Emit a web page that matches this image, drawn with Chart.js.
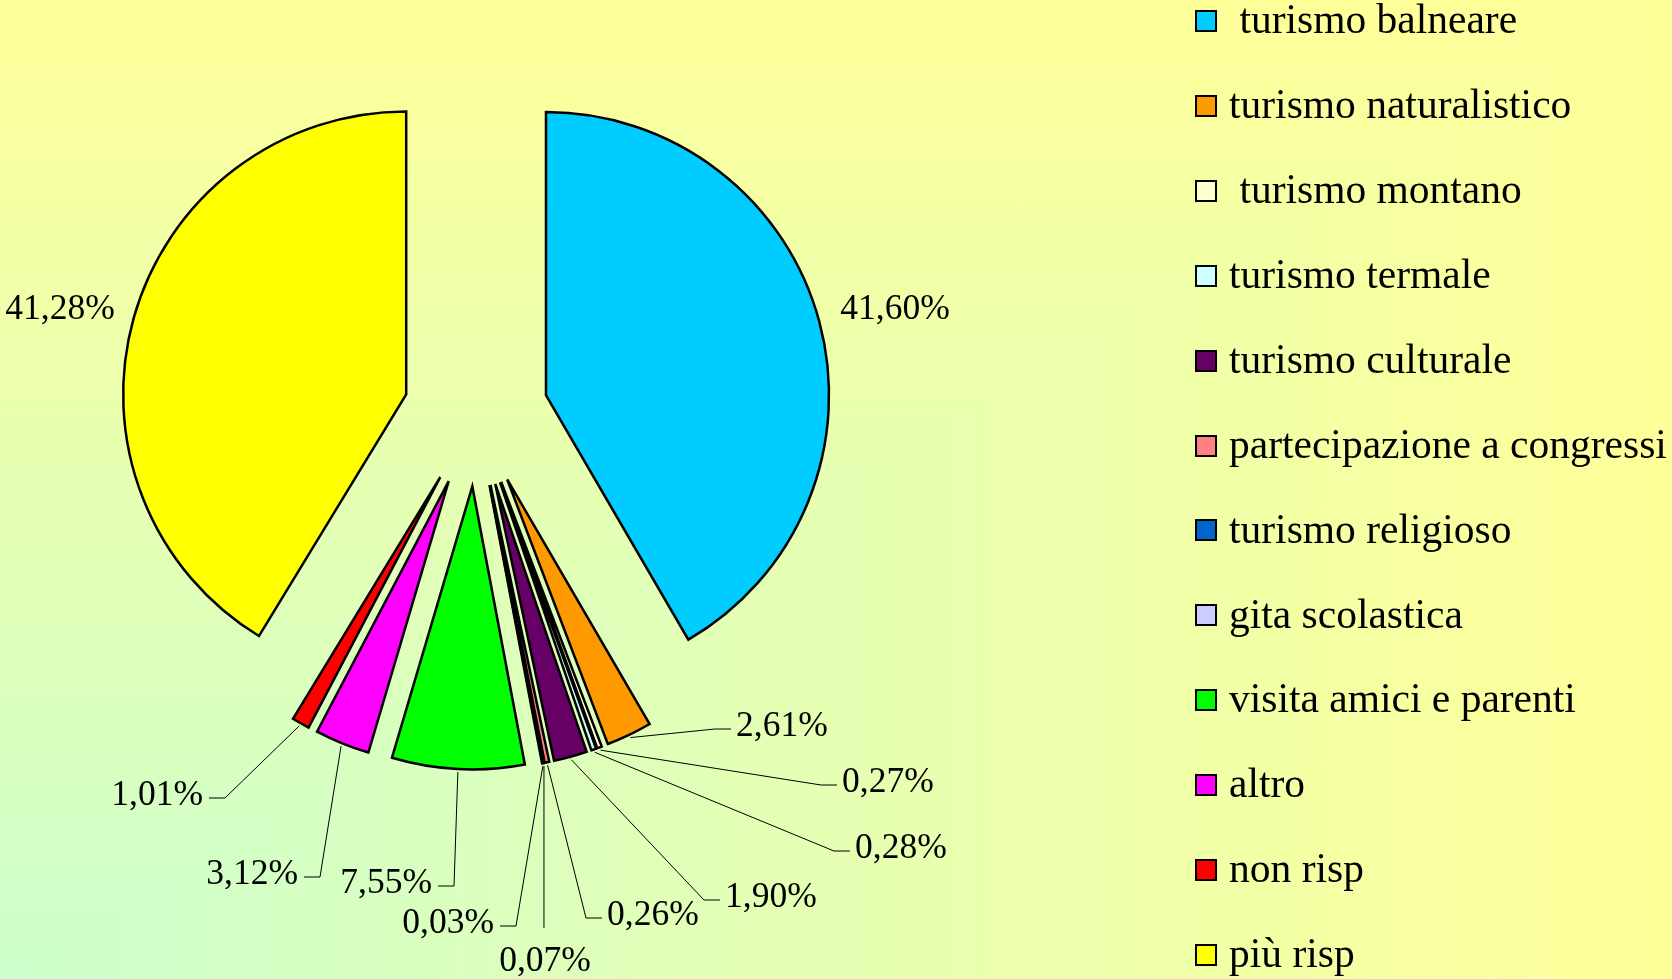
<!DOCTYPE html>
<html>
<head>
<meta charset="utf-8">
<script src="https://cdn.jsdelivr.net/npm/chart.js@4.4.0/dist/chart.umd.min.js"></script>
<style>
  html, body { margin: 0; padding: 0; width: 1672px; height: 979px; overflow: hidden; }
  #bg { position: absolute; left: 0; top: 0; width: 1672px; height: 979px;
        background: linear-gradient(to right, #CCFFCC, #FFFF99); }
  #bg2 { position: absolute; left: 0; top: 0; width: 1672px; height: 979px;
         background: linear-gradient(to top, #CCFFCC, #FFFF99);
         clip-path: polygon(0 0, 100% 0, 0 100%); }
  #wrap { position: absolute; left: 0; top: 0; width: 1672px; height: 979px; }
  #legend { position: absolute; left: 1195px; top: 0; width: 477px; height: 979px; }
  .row { position: absolute; left: 0; width: 477px; height: 22px; }
  .box { position: absolute; left: 0; top: 0; width: 22px; height: 22px;
         border: 2px solid #000; box-sizing: border-box; }
  .txt { position: absolute; left: 34px; top: -10.8px; font-family: "Liberation Serif", serif;
         font-size: 41.5px; line-height: 41px; white-space: pre; color: #000; }
</style>
</head>
<body>
<div id="bg"></div>
<div id="bg2"></div>
<div id="wrap"><canvas id="pieChart"></canvas></div>
<div id="legend"></div>
<script>
// categorie e valori (%)
const labels = [
  " turismo balneare", "turismo naturalistico", " turismo montano", "turismo termale",
  "turismo culturale", "partecipazione a congressi", "turismo religioso", "gita scolastica",
  "visita amici e parenti", "altro", "non risp", "più risp"
];
const values = [41.60, 2.61, 0.27, 0.28, 1.90, 0.26, 0.07, 0.03, 7.55, 3.12, 1.01, 41.28];
const colors = [
  "#00CCFF", "#FF9900", "#FFFFCC", "#CCFFFF", "#660066", "#FF8080",
  "#0066CC", "#CCCCFF", "#00FF00", "#FF00FF", "#FF0000", "#FFFF00"
];

// posizione delle etichette rispetto al centro della torta
const labelSpots = [
  { dx: 419, dy: -104, align: "center", line: false },
  { dx: 260, dy: 313, align: "left" },
  { dx: 366, dy: 369, align: "left" },
  { dx: 379, dy: 435, align: "left" },
  { dx: 249, dy: 484, align: "left" },
  { dx: 131, dy: 502, align: "left" },
  { dx: 69, dy: 548, align: "center" },
  { dx: 18, dy: 510, align: "right" },
  { dx: -44, dy: 470, align: "right" },
  { dx: -178, dy: 461, align: "right" },
  { dx: -273, dy: 382, align: "right" },
  { dx: -416, dy: -104, align: "center", line: false }
];

// spicchi esplosi: sposta ogni arco lungo la sua bisettrice
const explodePlugin = {
  id: "explode",
  afterDatasetUpdate(chart, args, opts) {
    const d = opts.distance || 0;
    args.meta.data.forEach((arc) => {
      const mid = (arc.startAngle + arc.endAngle) / 2;
      arc.x += d * Math.cos(mid);
      arc.y += d * Math.sin(mid);
    });
  }
};

// etichette percentuali con linee guida
const labelPlugin = {
  id: "sliceLabels",
  afterDatasetsDraw(chart) {
    const ctx = chart.ctx;
    const meta = chart.getDatasetMeta(0);
    const ca = chart.chartArea;
    const cx = (ca.left + ca.right) / 2;
    const cy = (ca.top + ca.bottom) / 2;
    ctx.save();
    ctx.font = '35.5px "Liberation Serif"';
    ctx.fillStyle = "#000";
    ctx.strokeStyle = "#000";
    ctx.lineWidth = 1;
    meta.data.forEach((arc, i) => {
      const spot = labelSpots[i];
      const lx = cx + spot.dx;
      const ly = cy + spot.dy;
      const text = values[i].toFixed(2).replace(".", ",") + "%";
      ctx.textAlign = spot.align;
      ctx.textBaseline = "middle";
      ctx.fillText(text, lx, ly);
      if (spot.line === false) return;

      const mid = (arc.startAngle + arc.endAngle) / 2;
      const r = arc.outerRadius + 3;
      const sx = arc.x + r * Math.cos(mid);
      const sy = arc.y + r * Math.sin(mid);
      ctx.beginPath();
      ctx.moveTo(sx, sy);
      if (spot.align === "left") {
        ctx.lineTo(lx - 21, ly + 2);
        ctx.lineTo(lx - 5, ly + 2);
      } else if (spot.align === "right") {
        ctx.lineTo(lx + 22, ly + 2);
        ctx.lineTo(lx + 6, ly + 2);
      } else {
        ctx.lineTo(sx, ly - 34);
      }
      ctx.stroke();
    });
    ctx.restore();
  }
};

const ctx = document.getElementById("pieChart").getContext("2d");
const pieChart = new Chart(ctx, {
  type: "pie",
  data: {
    labels: labels,
    datasets: [
      {
        data: values,
        backgroundColor: colors,
        borderColor: "#000",
        borderWidth: 2.5,
        borderJoinStyle: "miter"
      }
    ]
  },
  options: {
    responsive: true,
    maintainAspectRatio: false,
    animation: false,
    events: [],
    radius: 283,
    layout: { padding: { left: 0, top: 0, right: 720, bottom: 151 } },
    plugins: {
      legend: { display: false },
      tooltip: { enabled: false },
      explode: { distance: 72.5 }
    }
  },
  plugins: [explodePlugin, labelPlugin]
});

// legenda HTML
const legendEl = document.getElementById("legend");
pieChart.data.labels.forEach((name, i) => {
  const row = document.createElement("div");
  row.className = "row";
  row.style.top = (10 + 84.9 * i) + "px";
  const box = document.createElement("div");
  box.className = "box";
  box.style.background = pieChart.data.datasets[0].backgroundColor[i];
  const txt = document.createElement("span");
  txt.className = "txt";
  txt.textContent = name;
  row.appendChild(box);
  row.appendChild(txt);
  legendEl.appendChild(row);
});
</script>
</body>
</html>
